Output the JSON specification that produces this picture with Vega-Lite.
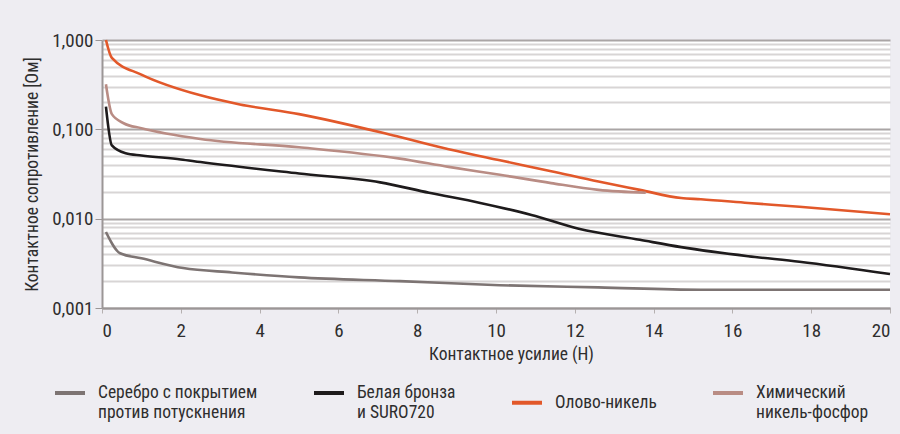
{
  "$schema": "https://vega.github.io/schema/vega-lite/v6.json",
  "width": 788,
  "height": 268,
  "autosize": {"type": "none"},
  "padding": {"left": 102, "top": 40, "right": 10, "bottom": 126},
  "background": "#eeedf2",
  "config": {
    "font": "'Liberation Sans Narrow', 'Roboto Condensed', Roboto, sans-serif",
    "view": {"fill": "white", "stroke": null},
    "axis": {"labelColor": "#2e2e2e", "titleColor": "#2e2e2e", "titleFontWeight": "normal", "labelFontSize": 19, "titleFontSize": 17.5},
    "legend": {"labelColor": "#2e2e2e", "labelFontSize": 17.5}
  },
  "data": {
    "values": [
      {"s": "Серебро с покрытием против потускнения", "x": 0.1, "y": 0.0071},
      {"s": "Серебро с покрытием против потускнения", "x": 0.46, "y": 0.0041},
      {"s": "Серебро с покрытием против потускнения", "x": 1, "y": 0.0036},
      {"s": "Серебро с покрытием против потускнения", "x": 2.06, "y": 0.0028},
      {"s": "Серебро с покрытием против потускнения", "x": 3.3, "y": 0.0025},
      {"s": "Серебро с покрытием против потускнения", "x": 5, "y": 0.0022},
      {"s": "Серебро с покрытием против потускнения", "x": 7.56, "y": 0.002},
      {"s": "Серебро с покрытием против потускнения", "x": 10.1, "y": 0.0018},
      {"s": "Серебро с покрытием против потускнения", "x": 12.6, "y": 0.0017},
      {"s": "Серебро с покрытием против потускнения", "x": 15.2, "y": 0.0016},
      {"s": "Серебро с покрытием против потускнения", "x": 20, "y": 0.0016},
      {"s": "Белая бронза и SURO720", "x": 0.1, "y": 0.18},
      {"s": "Белая бронза и SURO720", "x": 0.25, "y": 0.066},
      {"s": "Белая бронза и SURO720", "x": 0.6, "y": 0.054},
      {"s": "Белая бронза и SURO720", "x": 1, "y": 0.051},
      {"s": "Белая бронза и SURO720", "x": 2, "y": 0.046},
      {"s": "Белая бронза и SURO720", "x": 2.5, "y": 0.043},
      {"s": "Белая бронза и SURO720", "x": 5, "y": 0.032},
      {"s": "Белая бронза и SURO720", "x": 7.06, "y": 0.0255},
      {"s": "Белая бронза и SURO720", "x": 8.3, "y": 0.0195},
      {"s": "Белая бронза и SURO720", "x": 9.6, "y": 0.015},
      {"s": "Белая бронза и SURO720", "x": 10.9, "y": 0.011},
      {"s": "Белая бронза и SURO720", "x": 12.1, "y": 0.0077},
      {"s": "Белая бронза и SURO720", "x": 13.65, "y": 0.0058},
      {"s": "Белая бронза и SURO720", "x": 14.7, "y": 0.0048},
      {"s": "Белая бронза и SURO720", "x": 16.4, "y": 0.0038},
      {"s": "Белая бронза и SURO720", "x": 17.7, "y": 0.0033},
      {"s": "Белая бронза и SURO720", "x": 20, "y": 0.0024},
      {"s": "Олово-никель", "x": 0.1, "y": 1.0},
      {"s": "Олово-никель", "x": 0.25, "y": 0.63},
      {"s": "Олово-никель", "x": 1, "y": 0.41},
      {"s": "Олово-никель", "x": 2.5, "y": 0.24},
      {"s": "Олово-никель", "x": 3.5, "y": 0.19},
      {"s": "Олово-никель", "x": 5, "y": 0.148},
      {"s": "Олово-никель", "x": 7.56, "y": 0.082},
      {"s": "Олово-никель", "x": 8.8, "y": 0.06},
      {"s": "Олово-никель", "x": 10.1, "y": 0.045},
      {"s": "Олово-никель", "x": 11.4, "y": 0.034},
      {"s": "Олово-никель", "x": 12.6, "y": 0.026},
      {"s": "Олово-никель", "x": 13.65, "y": 0.021},
      {"s": "Олово-никель", "x": 14.7, "y": 0.017},
      {"s": "Олово-никель", "x": 15.2, "y": 0.0165},
      {"s": "Олово-никель", "x": 16.4, "y": 0.015},
      {"s": "Олово-никель", "x": 17.7, "y": 0.0136},
      {"s": "Олово-никель", "x": 20, "y": 0.0112},
      {"s": "Химический никель-фосфор", "x": 0.1, "y": 0.32},
      {"s": "Химический никель-фосфор", "x": 0.25, "y": 0.148},
      {"s": "Химический никель-фосфор", "x": 0.55, "y": 0.117},
      {"s": "Химический никель-фосфор", "x": 1, "y": 0.103},
      {"s": "Химический никель-фосфор", "x": 2.5, "y": 0.078},
      {"s": "Химический никель-фосфор", "x": 5, "y": 0.063},
      {"s": "Химический никель-фосфор", "x": 7.56, "y": 0.047},
      {"s": "Химический никель-фосфор", "x": 8.8, "y": 0.038},
      {"s": "Химический никель-фосфор", "x": 10.1, "y": 0.031},
      {"s": "Химический никель-фосфор", "x": 11.4, "y": 0.025},
      {"s": "Химический никель-фосфор", "x": 12.6, "y": 0.021},
      {"s": "Химический никель-фосфор", "x": 13.8, "y": 0.0195}
    ]
  },
  "mark": {"type": "line", "strokeWidth": 2.6, "interpolate": "monotone"},
  "encoding": {
    "x": {
      "field": "x", "type": "quantitative",
      "scale": {"domain": [0, 20], "nice": false},
      "axis": {
        "values": [0, 2, 4, 6, 8, 10, 12, 14, 16, 18, 20],
        "title": "Контактное усилие (Н)",
        "grid": false,
        "domainColor": "#9b9696", "domainWidth": 2,
        "tickColor": "#b5b0b0", "tickSize": 5,
        "labelPadding": 8,
        "titlePadding": 5,
        "titleX": 409
      }
    },
    "y": {
      "field": "y", "type": "quantitative",
      "scale": {"type": "log", "domain": [0.001, 1], "nice": false},
      "axis": {
        "values": [0.001, 0.002, 0.003, 0.004, 0.005, 0.006, 0.007, 0.008, 0.009, 0.01, 0.02, 0.03, 0.04, 0.05, 0.06, 0.07, 0.08, 0.09, 0.1, 0.2, 0.3, 0.4, 0.5, 0.6, 0.7, 0.8, 0.9, 1],
        "labelExpr": "indexof([0.001, 0.01, 0.1, 1], datum.value) >= 0 ? replace(format(datum.value, '.3f'), '.', ',') : ''",
        "title": "Контактное сопротивление [Ом]",
        "grid": true,
        "gridColor": {"condition": {"test": "indexof([0.001, 0.01, 0.1, 1], datum.value) >= 0", "value": "#aaa5a5"}, "value": "#d8d5d5"},
        "gridWidth": 2,
        "tickOpacity": {"condition": {"test": "indexof([0.001, 0.01, 0.1, 1], datum.value) >= 0", "value": 1}, "value": 0},
        "tickColor": "#9b9696", "tickSize": 7,
        "domainColor": "#9b9696", "domainWidth": 2,
        "labelPadding": 2,
        "titlePadding": 10
      }
    },
    "color": {
      "field": "s", "type": "nominal",
      "scale": {
        "domain": ["Серебро с покрытием против потускнения", "Белая бронза и SURO720", "Олово-никель", "Химический никель-фосфор"],
        "range": ["#7d7473", "#1e1b1c", "#e2582a", "#b98c84"]
      },
      "legend": {
        "title": null,
        "orient": "none",
        "legendX": -49,
        "legendY": 336,
        "direction": "horizontal",
        "columns": 4,
        "columnPadding": 48,
        "gridAlign": "each",
        "symbolType": "stroke",
        "symbolSize": 900,
        "symbolStrokeWidth": 4,
        "labelOffset": 11,
        "labelLimit": 300,
        "padding": 0,
        "labelExpr": "datum.label == 'Серебро с покрытием против потускнения' ? ['Серебро с покрытием', 'против потускнения'] : datum.label == 'Белая бронза и SURO720' ? ['Белая бронза', 'и SURO720'] : datum.label == 'Химический никель-фосфор' ? ['Химический', 'никель-фосфор'] : datum.label"
      }
    }
  }
}
